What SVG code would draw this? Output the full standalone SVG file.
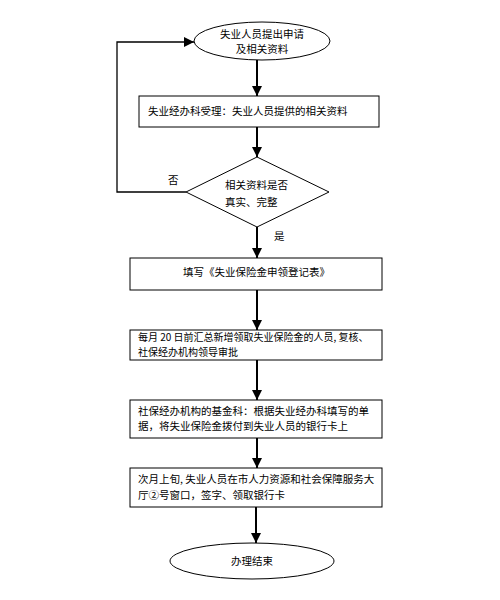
<svg xmlns="http://www.w3.org/2000/svg" width="500" height="600" viewBox="0 0 500 600">
<style>
.shape{fill:#fff;stroke:#000;stroke-width:1}
.t{font-family:"Noto Sans CJK SC","Noto Sans",sans-serif;font-size:10.5px;fill:#000}
.s{font-size:10px}
.c{stroke:#000;stroke-width:2;fill:none}
.thin{stroke:#000;stroke-width:1.3;fill:none}
</style>
<defs>
<marker id="ah" markerUnits="userSpaceOnUse" markerWidth="10" markerHeight="12" refX="10" refY="5" orient="auto">
<path d="M0,0 L10,5 L0,10 Z" fill="#000"/>
</marker>
</defs>
<rect width="500" height="600" fill="#fff"/>
<g id="connectors">
<line class="c" x1="257" y1="60" x2="257" y2="96" marker-end="url(#ah)"/>
<line class="c" x1="257" y1="127" x2="257" y2="157" marker-end="url(#ah)"/>
<polyline class="thin" points="186,192 117,192 117,42 194,42" marker-end="url(#ah)"/>
<line class="c" x1="257" y1="227" x2="257" y2="258" marker-end="url(#ah)"/>
<line class="c" x1="257" y1="290" x2="257" y2="330" marker-end="url(#ah)"/>
<line class="c" x1="257" y1="360" x2="257" y2="400" marker-end="url(#ah)"/>
<line class="c" x1="257" y1="438" x2="257" y2="468" marker-end="url(#ah)"/>
<line class="c" x1="256" y1="507" x2="256" y2="543" marker-end="url(#ah)"/>
<text class="t" x="168" y="184">否</text>
<text class="t" x="274" y="240">是</text>
</g>
<g id="start">
<ellipse class="shape" cx="262" cy="41" rx="68" ry="19"/>
<text class="t" x="262" y="38" text-anchor="middle">失业人员提出申请</text>
<text class="t" x="262" y="53" text-anchor="middle">及相关资料</text>
</g>
<g id="accept">
<rect class="shape" x="139" y="96" width="240" height="31"/>
<text class="t" x="148" y="115">失业经办科受理：失业人员提供的相关资料</text>
</g>
<g id="check">
<polygon class="shape" points="186,192 257,157 329,192 257,227"/>
<text class="t" x="225" y="189">相关资料是否</text>
<text class="t" x="225" y="206">真实、完整</text>
</g>
<g id="fill-form">
<rect class="shape" x="130" y="258" width="252" height="32"/>
<text class="t" x="183" y="276">填写《失业保险金申领登记表》</text>
</g>
<g id="review">
<rect class="shape" x="130" y="330" width="252" height="30"/>
<text class="t s" x="138" y="341">每月 20 日前汇总新增领取失业保险金的人员, 复核、</text>
<text class="t s" x="138" y="355.5">社保经办机构领导审批</text>
</g>
<g id="pay">
<rect class="shape" x="130" y="400" width="252" height="38"/>
<text class="t" x="138" y="415">社保经办机构的基金科：根据失业经办科填写的单</text>
<text class="t" x="138" y="430">据，将失业保险金拨付到失业人员的银行卡上</text>
</g>
<g id="collect">
<rect class="shape" x="130" y="468" width="252" height="39"/>
<text class="t" x="138" y="483">次月上旬, 失业人员在市人力资源和社会保障服务大</text>
<text class="t" x="138" y="499">厅②号窗口，签字、领取银行卡</text>
</g>
<g id="end">
<ellipse class="shape" cx="252" cy="561" rx="82" ry="18"/>
<text class="t" x="252" y="565" text-anchor="middle">办理结束</text>
</g>
</svg>
